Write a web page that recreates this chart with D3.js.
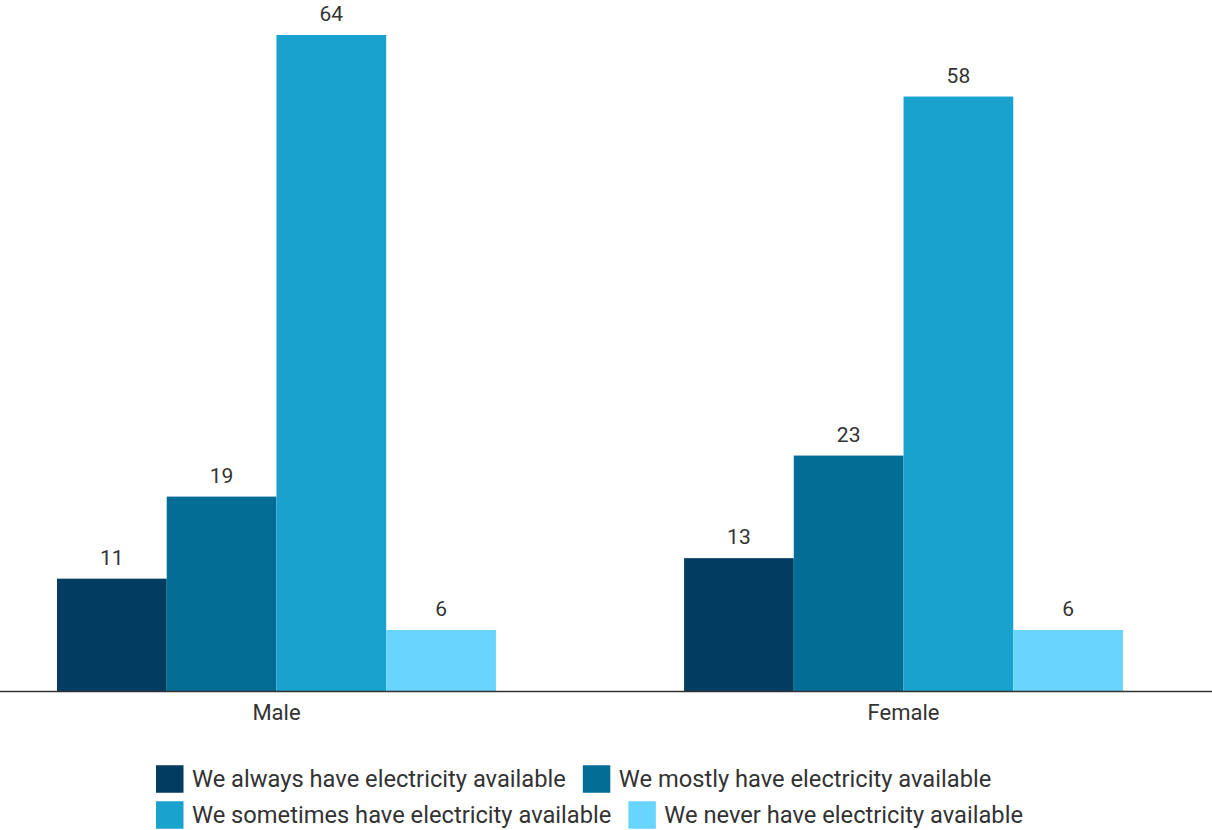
<!DOCTYPE html>
<html><head><meta charset="utf-8">
<script src="https://cdn.jsdelivr.net/npm/d3@7"></script>
<style>body{margin:0;background:#fff;}svg{display:block;font-family:Roboto,sans-serif;}</style>
</head><body>
<svg id="c" width="1212" height="830"></svg>
<script>
const categories = ["Male", "Female"];
const seriesNames = [
  "We always have electricity available",
  "We mostly have electricity available",
  "We sometimes have electricity available",
  "We never have electricity available"
];
const always = [11, 13];
const mostly = [19, 23];
const sometimes = [64, 58];
const never = [6, 6];
const colors = ["#023d61", "#036d96", "#1aa2cf", "#68d5fe"];

const seriesValues = [always, mostly, sometimes, never];
const svg = d3.select("#c");
const baseY = 691.5, topY = 35;
const x0 = d3.scaleBand().domain(categories).range([0, 1180]).paddingInner(0.3).paddingOuter(0.0909);
const x1 = d3.scaleBand().domain(d3.range(seriesNames.length)).range([0, x0.bandwidth()]);
const y = d3.scaleLinear().domain([0, 64]).range([baseY, topY]);

const g = svg.selectAll("g.cat").data(categories).enter().append("g")
  .attr("transform", d => `translate(${x0(d)},0)`);
g.selectAll("rect").data((d, i) => seriesValues.map((s, k) => ({k, v: s[i]}))).enter().append("rect")
  .attr("x", d => x1(d.k)).attr("width", x1.bandwidth())
  .attr("y", d => y(d.v)).attr("height", d => baseY - y(d.v))
  .attr("fill", d => colors[d.k]);
g.selectAll("text.val").data((d, i) => seriesValues.map((s, k) => ({k, v: s[i]}))).enter().append("text")
  .attr("class", "val")
  .attr("x", d => x1(d.k) + x1.bandwidth() / 2).attr("y", d => y(d.v) - 14)
  .attr("text-anchor", "middle").attr("font-size", 21).attr("fill", "#333")
  .text(d => d.v);

const ax = svg.append("g").attr("transform", `translate(0,${baseY})`)
  .call(d3.axisBottom(x0).tickSize(0).tickPadding(13));
ax.select(".domain").attr("d", "M0,0H1212").attr("stroke", "#333").attr("stroke-width", 1.5);
ax.selectAll("text").attr("font-size", 22).attr("fill", "#333").attr("font-family", "Roboto,sans-serif");

// legend
const rows = [[0, 1], [2, 3]];
const lg = svg.append("g");
rows.forEach((row, ri) => {
  let xx = 156;
  const cy = 779 + ri * 36;
  row.forEach(k => {
    lg.append("rect").attr("x", xx).attr("y", cy - 13.75).attr("width", 27.5).attr("height", 27.5).attr("fill", colors[k]);
    const t = lg.append("text").attr("x", xx + 36).attr("y", cy + 8)
      .attr("font-size", 23.7).attr("fill", "#333").text(seriesNames[k]);
    xx += 36 + t.node().getComputedTextLength() + 17;
  });
});
</script>
</body></html>
